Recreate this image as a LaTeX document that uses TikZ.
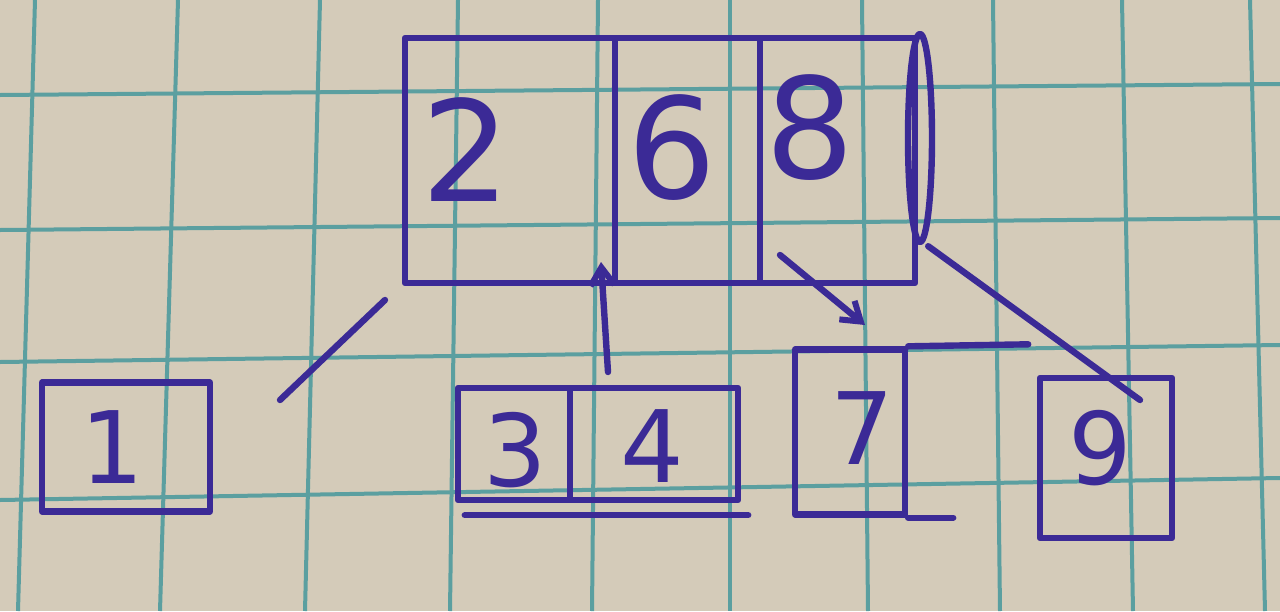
\documentclass[tikz,border=0pt]{standalone}
\usepackage{fontspec}
\setmainfont{DejaVu Sans}
\usetikzlibrary{arrows.meta}
\definecolor{paper}{HTML}{D4CBB9}
\definecolor{gridc}{HTML}{5B9FA0}
\definecolor{ink}{HTML}{3B2A96}
\tikzset{
  ink/.style={draw=ink, line width=3.2pt, line cap=round, line join=round},
  cell/.style={ink, rectangle, inner sep=0pt, anchor=center},
  big/.style={text=ink, font=\fontsize{70}{70}\selectfont, inner sep=0pt},
  small/.style={text=ink, font=\fontsize{50}{50}\selectfont, inner sep=0pt},
  gridline/.style={draw=gridc, line width=2pt},
  arr/.style={ink, -{Straight Barb[length=9pt,width=12pt,line width=3pt]}}
}
\begin{document}
\begin{tikzpicture}[x=0.5pt,y=-0.5pt]
\useasboundingbox (0,0) rectangle (1280,611);
\fill[paper] (0,0) rectangle (1280,611);
% grid
\foreach \a/\b in {35/18,178/160,320/305,458/450,598/592,730/730,862/868,993/1000,1122/1133,1250/1265}
  \draw[gridline] (\a,0) -- (\b,611);
\foreach \a/\b in {95/84,230/218,362/345,500/478}
  \draw[gridline] (0,\a) -- (1280,\b);
% root node
\node[cell, minimum width=105pt, minimum height=122.5pt] (r2) at (510,160.5) {};
\node[cell, minimum width=72.5pt, minimum height=122.5pt] (r6) at (687.5,160.5) {};
\node[cell, minimum width=77.5pt, minimum height=122.5pt] (r8) at (837.5,160.5) {};
\draw[ink] (920,138) ellipse [x radius=12, y radius=104];
\node[big] (t2) at (466,150) {2};
\node[big] (t6) at (672,148) {6};
\node[big] (t8) at (810,128) {8};
% children
\node[cell, minimum width=84pt, minimum height=64.5pt] (c1) at (126,447) {};
\node[small] (t1) at (112,447) {1};
\node[cell, minimum width=56pt, minimum height=56pt] (c3) at (514,444) {};
\node[cell, minimum width=84pt, minimum height=56pt] (c4) at (654,444) {};
\node[small] (t3) at (515,450) {3};
\node[small] (t4) at (652,446) {4};
\node[cell, minimum width=55pt, minimum height=82.5pt] (c7) at (850,432) {};
\node[small] (t7) at (862,428) {7};
\node[cell, minimum width=66pt, minimum height=80pt] (c9) at (1106,458) {};
\node[small] (t9) at (1100,448) {9};
% stray strokes
\draw[ink] (c7.north east) -- ++(120,-2);
\draw[ink] (c7.south east) -- ++(45,0);
\draw[ink] (c3.south west) ++(10,12) -- ([xshift=3.5pt,yshift=-6pt]c4.south east);
% connectors
\coordinate (a1) at (385,300);
\coordinate (a2) at (280,400);
\draw[ink] (a1) -- (a2);
\coordinate (p1) at (608,372);
\draw[arr] (p1) -- (601,262);
\coordinate (q1) at (780,255);
\coordinate (q2) at (865,325);
\draw[arr] (q1) -- (q2);
\coordinate (s2) at (1140,400);
\draw[ink] (r8.south east) ++(10,-40) -- (s2);
\end{tikzpicture}
\end{document}
